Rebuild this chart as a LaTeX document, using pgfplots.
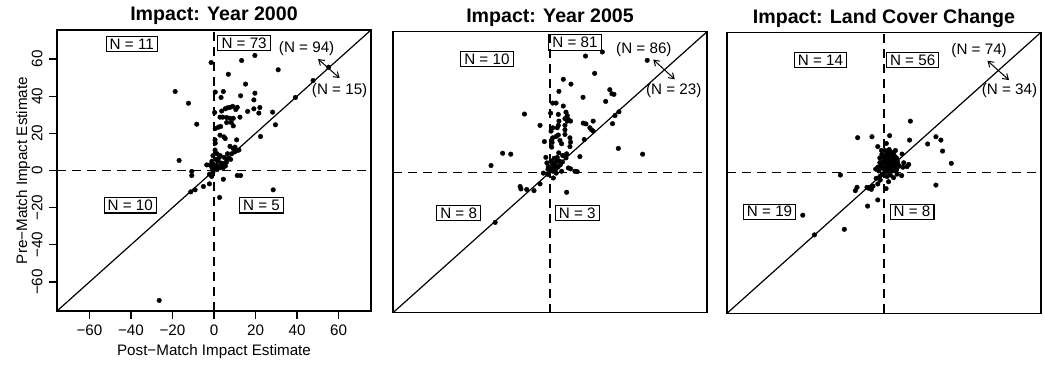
\documentclass[border=0pt]{standalone}
\usepackage{fontspec}
\setmainfont{Liberation Sans}
\usepackage{pgfplots}
\pgfplotsset{compat=1.18}
\usepackage{pgfplotstable}
\usetikzlibrary{arrows.meta}

% Pre-match (y) against post-match (x) impact estimates, one table per panel
\pgfplotstableread{
x y
-1.4 58.1
13.3 59.2
19.7 61.9
30.9 54.2
55.2 55.6
47.7 48.4
39.2 39.3
6.9 51.8
15.2 46.5
-18.7 42.5
-12.3 36.2
-8.3 24.9
-16.8 5.4
0.6 42.2
4.5 42.5
3.4 39.3
12.8 40.2
19.7 41.6
19.2 38.0
22.1 33.9
21.6 30.9
19.2 33.2
16.2 31.8
28.2 31.4
29.6 24.6
22.4 18.3
0.3 31.2
3.7 32.0
5.4 33.2
6.4 33.7
7.7 34.0
9.0 34.5
11.2 34.0
10.5 32.8
2.9 28.7
4.2 28.7
6.1 28.5
7.7 28.1
9.3 28.1
12.5 28.7
6.1 25.8
8.3 25.8
9.3 24.0
0.6 22.6
2.1 23.3
3.2 23.7
2.9 19.0
4.8 18.1
5.4 17.2
10.9 16.5
0.5 16.5
0.6 14.7
7.7 13.0
9.3 11.8
11.2 10.9
10.1 12.6
0.5 11.0
1.5 9.0
3.0 8.0
5.0 7.0
7.0 6.5
8.5 9.0
10.0 10.0
12.0 11.0
1.0 6.0
2.0 5.0
3.5 4.0
4.5 3.0
6.0 4.5
1.0 3.0
2.0 2.0
0.5 1.0
1.5 0.5
3.0 1.5
4.5 1.6
5.5 2.5
8.0 6.0
2.5 7.0
6.5 9.0
-0.5 8.0
-1.0 5.0
-2.0 3.0
-3.5 3.0
-1.0 1.5
-0.5 3.5
-10.7 -0.5
-10.7 -2.7
-2.2 -2.0
-1.1 -3.2
-11.2 -11.5
-9.1 -10.4
-5.1 -8.6
-2.2 -7.2
-26.4 -69.9
-0.5 -0.8
4.5 -4.7
11.2 -2.7
12.8 -2.7
28.5 -10.4
2.7 -14.5
}\impactA

\pgfplotstableread{
x y
17.1 62.5
25.2 64.7
46.8 60.2
21.5 53.2
6.4 50.0
10.1 47.4
4.3 43.5
15.9 40.3
28.8 44.4
29.8 42.2
30.8 41.9
26.8 38.1
1.3 37.2
2.9 37.2
6.4 35.6
0.3 31.8
4.0 31.1
7.7 32.3
8.3 30.5
8.8 28.4
7.2 28.8
8.3 27.5
9.9 27.5
4.3 27.5
4.0 25.2
3.5 23.9
1.3 23.9
0.5 22.1
7.2 25.2
7.2 22.8
7.2 20.3
4.0 20.0
2.9 19.2
0.8 17.2
1.3 18.5
0.8 13.5
1.0 16.0
5.6 15.3
4.8 17.1
9.6 18.5
9.9 16.2
9.6 13.8
16.0 26.4
17.3 26.0
20.8 27.5
19.2 23.9
20.0 22.8
20.8 22.1
16.5 17.6
33.2 32.5
31.3 30.5
30.1 26.1
32.9 12.8
44.6 9.7
4.2 10.4
6.1 9.0
8.0 9.9
7.7 7.7
14.4 8.4
8.8 2.3
9.9 1.8
12.0 0.5
13.1 0.3
5.6 0.5
0.5 1.0
1.0 2.0
1.5 3.0
2.0 4.0
2.5 5.0
3.0 6.0
1.0 4.5
0.5 6.0
2.0 7.5
3.5 8.0
4.5 6.0
5.0 4.0
4.0 3.0
3.0 2.0
2.0 1.0
1.5 0.5
6.0 5.5
-12.3 31.3
-4.8 25.2
-22.8 10.2
-18.9 9.7
-28.4 3.6
-2.7 16.5
-1.5 5.0
-0.8 3.0
-2.0 8.0
-1.0 1.5
-3.2 -0.5
-14.4 -7.7
-14.0 -9.0
-11.2 -9.3
-7.7 -9.9
-4.8 -6.3
-26.4 -27.0
-1.0 -1.2
1.6 -3.1
8.0 -10.8
3.0 -0.5
}\impactB

\pgfplotstableread{
x y
12.7 27.8
2.7 20.0
1.1 15.8
12.3 17.6
21.0 15.5
25.0 19.4
27.4 17.6
28.2 11.7
32.4 5.1
8.7 10.1
11.9 4.5
11.1 3.3
9.5 5.4
9.1 3.0
7.4 3.6
0.5 12.0
1.5 11.0
2.5 12.5
3.5 11.0
4.5 10.5
1.0 9.5
2.0 8.5
3.0 9.0
4.0 8.0
5.0 9.0
6.0 8.0
0.5 7.0
1.5 6.5
2.5 7.0
3.5 6.0
4.5 6.5
5.5 5.5
6.5 6.0
1.0 5.0
2.0 4.5
3.0 5.0
4.0 4.0
5.0 3.5
0.5 3.5
1.5 3.0
2.5 2.5
3.5 2.0
0.5 1.5
1.5 1.0
2.5 0.8
4.0 1.0
6.0 1.5
0.8 0.4
2.0 2.0
3.0 3.5
1.2 8.0
2.2 10.0
5.5 12.0
0.3 5.5
7.0 4.0
6.0 2.8
-12.7 18.9
-5.8 19.4
-3.0 14.1
-1.0 10.0
-2.0 8.0
-0.5 6.0
-1.5 4.0
-3.0 3.0
-2.5 1.0
-4.0 2.0
-0.8 2.5
-1.2 12.0
-0.5 8.5
-2.0 5.5
-21.0 -1.2
-3.8 -3.0
-3.0 -6.0
-1.8 -3.9
-13.8 -9.6
-13.0 -7.8
-8.2 -7.8
-7.4 -8.3
-6.6 -7.8
-6.1 -8.9
-5.3 -7.2
-3.0 -14.6
-7.9 -17.9
-39.1 -22.8
-19.1 -30.4
-33.5 -33.4
-1.0 -1.0
-2.0 -2.0
-0.5 -0.6
6.3 -0.7
4.6 -2.6
2.2 -4.8
3.0 -1.2
25.0 -6.6
1.0 -8.5
8.5 -1.5
1.5 -2.0
}\impactC

\newcommand\lbl{\fontsize{7.6}{9}\selectfont}

\pgfplotsset{
  impact/.style={
    scale only axis, width=157pt, height=140.5pt,
    xmin=-75.6, xmax=75.6, ymin=-75.6, ymax=75.6,
    axis line style={line width=0.75pt},
    xtick=\empty, ytick=\empty,
    every axis title/.style={at={(0.5,1)}, anchor=base, yshift=4.6pt,
      inner sep=0pt, font=\bfseries\fontsize{9.8}{12}\selectfont},
  },
  diag/.style={black, line width=0.6pt},
  zero/.style={black, line width=0.65pt, dash pattern=on 4.5pt off 3pt},
  pts/.style={only marks, mark=*, mark size=1.15pt, black,
    mark options={line width=0.2pt}},
}
\tikzset{
  nbox/.style={draw, line width=0.55pt, inner xsep=1.8pt, inner ysep=1.1pt,
    font=\lbl},
  ntxt/.style={inner sep=0pt, font=\lbl},
  twoway/.style={line width=0.5pt,
    {Straight Barb[length=2.6pt,width=3.4pt]}-{Straight Barb[length=2.6pt,width=3.4pt]}},
}

\begin{document}
\begin{tikzpicture}
\useasboundingbox (0,0) rectangle (522.5pt,-185pt);

% Year 2000
\begin{axis}[impact, at={(28.5pt,-15pt)}, anchor=north west,
  title={Impact: Year 2000},
  xtick={-60,-40,...,60}, ytick={-60,-40,...,60},
  xticklabels={−60,−40,−20,0,20,40,60},
  yticklabels={−60,−40,−20,0,20,40,60},
  tick align=outside, tick pos=left, major tick length=3.8pt,
  tick style={line width=0.6pt, black},
  xticklabel style={anchor=base, font=\lbl}, xticklabel shift=8.2pt,
  yticklabel style={rotate=90, anchor=base, font=\lbl}, yticklabel shift=3.5pt,
  xlabel={Post−Match Impact Estimate},
  ylabel={Pre−Match Impact Estimate},
  xlabel style={at={(axis description cs:0.5,-0.1566)}, anchor=base, font=\lbl},
  ylabel style={at={(axis description cs:-0.095,0.5)}, anchor=base, font=\lbl},
]
\addplot[diag] coordinates {(-75.6,-75.6) (75.6,75.6)};
\addplot[zero] coordinates {(-75.6,0) (75.6,0)};
\addplot[zero] coordinates {(0,-75.6) (0,75.6)};
\addplot[pts] table {\impactA};
\node[nbox] at (axis cs:-39.6,68) {N = 11};
\node[nbox] at (axis cs:14.5,68.6) {N = 73};
\node[nbox] at (axis cs:-40.3,-18.8) {N = 10};
\node[nbox] at (axis cs:22.9,-18.8) {N = 5};
\node[ntxt] at (axis cs:44.6,65.5) {(N = 94)};
\node[ntxt] at (axis cs:60.5,42.9) {(N = 15)};
\draw[twoway] (axis cs:50.1,60) -- (axis cs:60.5,49.7);
\end{axis}

% Year 2005
\begin{axis}[impact, at={(196.5pt,-15.85pt)}, anchor=north west,
  title={Impact: Year 2005}]
\addplot[diag] coordinates {(-75.6,-75.6) (75.6,75.6)};
\addplot[zero] coordinates {(-75.6,0) (75.6,0)};
\addplot[zero] coordinates {(0,-75.6) (0,75.6)};
\addplot[pts] table {\impactB};
\node[nbox] at (axis cs:-30.4,60.8) {N = 10};
\node[nbox] at (axis cs:12,69.8) {N = 81};
\node[nbox] at (axis cs:-44,-21.9) {N = 8};
\node[nbox] at (axis cs:13.1,-21.9) {N = 3};
\node[ntxt] at (axis cs:45.2,66) {(N = 86)};
\node[ntxt] at (axis cs:59.6,44) {(N = 23)};
\draw[twoway] (axis cs:49.7,60.6) -- (axis cs:60.1,50);
\end{axis}

% Land cover change
\begin{axis}[impact, at={(363.5pt,-16.15pt)}, anchor=north west,
  title={Impact: Land Cover Change}]
\addplot[diag] coordinates {(-75.6,-75.6) (75.6,75.6)};
\addplot[zero] coordinates {(-75.6,0) (75.6,0)};
\addplot[zero] coordinates {(0,-75.6) (0,75.6)};
\addplot[pts] table {\impactC};
\node[nbox] at (axis cs:-30.6,60.6) {N = 14};
\node[nbox] at (axis cs:13.8,60.6) {N = 56};
\node[nbox] at (axis cs:-55.1,-20.9) {N = 19};
\node[nbox] at (axis cs:13.5,-20.9) {N = 8};
\node[ntxt] at (axis cs:45.8,66) {(N = 74)};
\node[ntxt] at (axis cs:60.4,44.1) {(N = 34)};
\draw[twoway] (axis cs:49.8,60.3) -- (axis cs:60.2,49.9);
\end{axis}
\end{tikzpicture}
\end{document}
